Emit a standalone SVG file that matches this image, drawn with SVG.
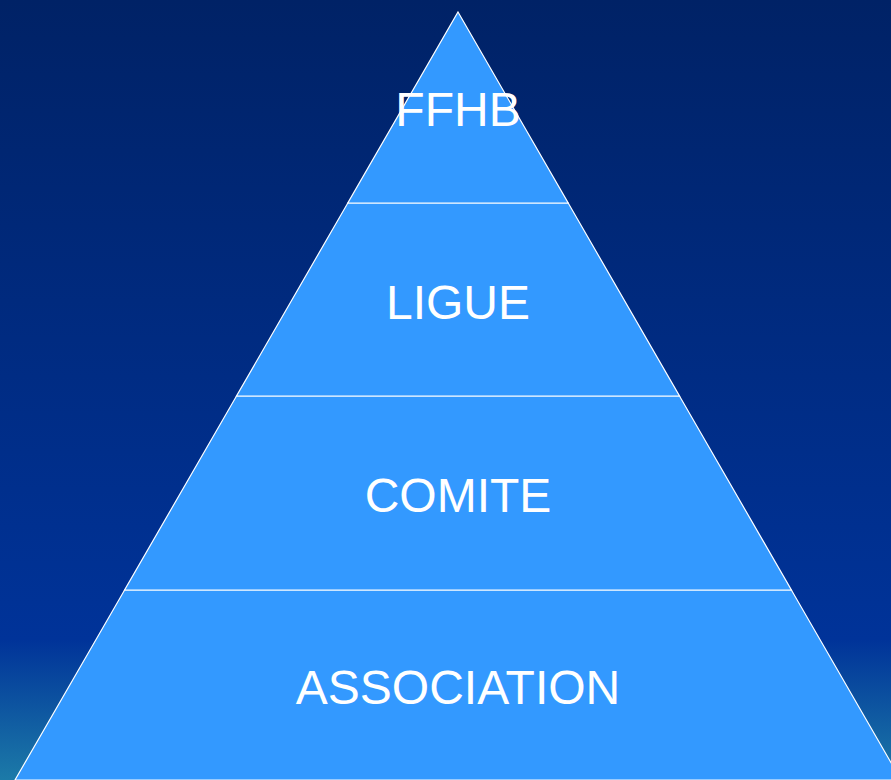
<svg xmlns="http://www.w3.org/2000/svg" width="891" height="780" viewBox="0 0 891 780">
<defs>
<linearGradient id="bg" x1="0" y1="0" x2="0" y2="780" gradientUnits="userSpaceOnUse">
<stop offset="0" stop-color="#002266"/>
<stop offset="0.82" stop-color="#003399"/>
<stop offset="1" stop-color="#1c7aa8"/>
</linearGradient>
<style>
.tier{fill:#3399ff;stroke:#ffffff;stroke-width:1.2}
.lbl{font-family:"Liberation Sans",Arial,sans-serif;font-size:48px;fill:#ffffff;text-anchor:middle}
</style>
</defs>
<rect x="0" y="0" width="891" height="780" fill="url(#bg)"/>
<g id="association"><polygon class="tier" points="124.6,590 791.4,590 901,780 15,780"/><text class="lbl" x="458" y="704">ASSOCIATION</text></g>
<g id="comite"><polygon class="tier" points="236.5,396 679.5,396 791.4,590 124.6,590"/><text class="lbl" x="458" y="512">COMITE</text></g>
<g id="ligue"><polygon class="tier" points="347.8,203 568.2,203 679.5,396 236.5,396"/><text class="lbl" x="458" y="319">LIGUE</text></g>
<g id="ffhb"><polygon class="tier" points="458,12 568.2,203 347.8,203"/><text class="lbl" x="458" y="126">FFHB</text></g>
</svg>
